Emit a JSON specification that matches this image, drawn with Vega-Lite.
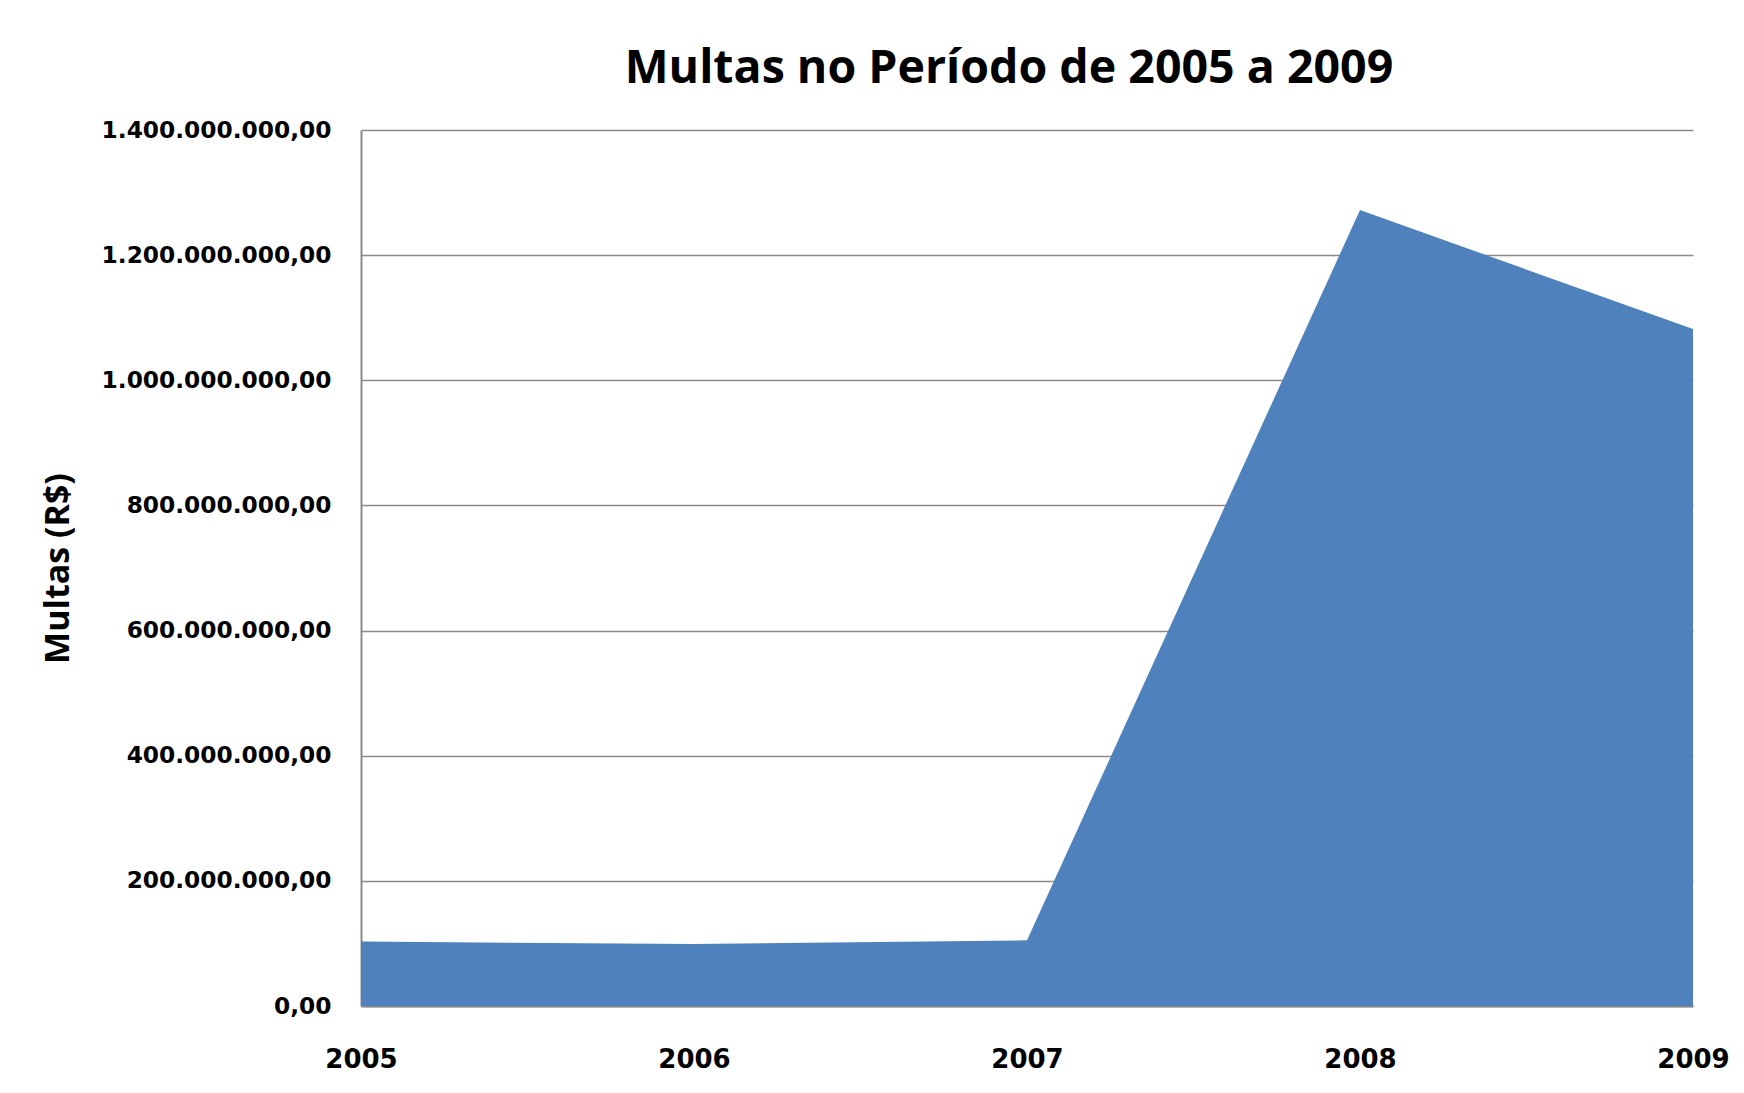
{
  "$schema": "https://vega.github.io/schema/vega-lite/v6.json",
  "autosize": "none",
  "width": 1332,
  "height": 876,
  "padding": {"left": 361, "top": 130, "right": 51, "bottom": 87},
  "background": "#ffffff",
  "config": {
    "locale": {"number": {"decimal": ",", "thousands": ".", "grouping": [3], "currency": ["R$", ""]}},
    "view": {"stroke": null}
  },
  "title": {
    "text": "Multas no Período de 2005 a 2009",
    "font": "Open Sans",
    "fontSize": 46.5,
    "fontWeight": "bold",
    "color": "#000000",
    "anchor": "middle",
    "offset": 26,
    "dx": -18
  },
  "data": {
    "values": [
      {"ano": "2005", "multas": 103000000},
      {"ano": "2006", "multas": 99000000},
      {"ano": "2007", "multas": 105000000},
      {"ano": "2008", "multas": 1272000000},
      {"ano": "2009", "multas": 1082000000}
    ]
  },
  "mark": {"type": "area", "color": "#4F81BD", "opacity": 1},
  "encoding": {
    "x": {
      "field": "ano",
      "type": "ordinal",
      "scale": {"type": "point", "padding": 0},
      "axis": {
        "title": null,
        "labelAngle": 0,
        "labelFont": "DejaVu Sans",
        "labelFontWeight": "bold",
        "labelFontSize": 26,
        "labelColor": "#000000",
        "labelPadding": 40,
        "labelLimit": 0,
        "ticks": false,
        "domainColor": "#8a8a8a",
        "domainWidth": 2,
        "grid": false
      }
    },
    "y": {
      "field": "multas",
      "type": "quantitative",
      "scale": {"domain": [0, 1400000000], "nice": false},
      "axis": {
        "values": [0, 200000000, 400000000, 600000000, 800000000, 1000000000, 1200000000, 1400000000],
        "format": ",.2f",
        "title": "Multas (R$)",
        "titleFont": "Open Sans",
        "titleFontSize": 34,
        "titleFontWeight": "bold",
        "titleColor": "#000000",
        "titleAngle": 270,
        "titleAlign": "center",
        "titleBaseline": "middle",
        "titleX": -303,
        "titleY": 438,
        "labelFont": "DejaVu Sans",
        "labelFontWeight": "bold",
        "labelFontSize": 23.3,
        "labelColor": "#000000",
        "labelPadding": 30,
        "labelLimit": 0,
        "ticks": false,
        "domainColor": "#8a8a8a",
        "domainWidth": 2,
        "grid": true,
        "gridColor": "#8a8a8a",
        "gridWidth": 1.5
      }
    }
  }
}
